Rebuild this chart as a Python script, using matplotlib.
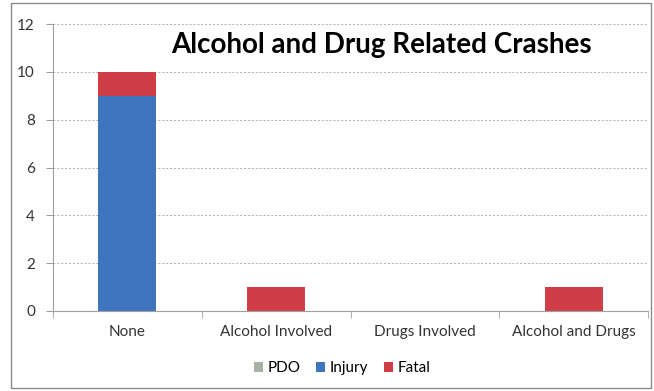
import matplotlib.pyplot as plt
import numpy as np
from matplotlib.patches import Rectangle

plt.rcParams['font.family'] = ['Lato', 'DejaVu Sans']

categories = ['None', 'Alcohol Involved', 'Drugs Involved', 'Alcohol and Drugs']
pdo = [0, 0, 0, 0]
injury = [9, 0, 0, 0]
fatal = [1, 1, 0, 1]

colors = {'PDO': '#A9B0A4', 'Injury': '#3F74BE', 'Fatal': '#CF3E47'}

fig = plt.figure(figsize=(6.54, 3.91), dpi=100)
fig.patches.append(Rectangle((11 / 654, 3 / 391), 640 / 654, 385 / 391, transform=fig.transFigure,
                             fill=False, edgecolor='#8C8C8C', linewidth=1))
ax = fig.add_axes([53 / 654, (391 - 311) / 391, (648 - 53) / 654, (311 - 24) / 391])

x = np.arange(len(categories))
w = 0.39
ax.bar(x, pdo, w, color=colors['PDO'], label='PDO')
ax.bar(x, injury, w, bottom=pdo, color=colors['Injury'], label='Injury')
ax.bar(x, fatal, w, bottom=np.array(pdo) + np.array(injury), color=colors['Fatal'], label='Fatal')

ax.set_xlim(-0.5, len(categories) - 0.5)
ax.set_ylim(0, 12)
ax.set_yticks(range(0, 13, 2))
ax.yaxis.grid(True, linestyle=(0, (2, 2)), color='#B0B0B0', linewidth=0.7)
ax.set_axisbelow(True)
for s in ['top', 'right']:
    ax.spines[s].set_visible(False)
ax.spines['left'].set_color('#A0A0A0')
ax.spines['bottom'].set_color('#A0A0A0')

ax.set_xticks(x)
ax.set_xticklabels(categories, fontsize=11, color='#333333')
ax.tick_params(axis='x', length=0, pad=10)
ax.set_xticks(np.arange(-0.5, len(categories), 1), minor=True)
ax.tick_params(axis='x', which='minor', length=5, color='#A0A0A0', direction='out')
ax.tick_params(axis='y', labelsize=11, labelcolor='#333333', length=5, color='#A0A0A0', pad=8)

fig.text(0.583, 0.885, 'Alcohol and Drug Related Crashes', ha='center', va='center',
         fontsize=20, fontweight='bold', color='black')

fig.legend(loc='center', bbox_to_anchor=(0.523, 0.058), ncol=3, frameon=False, fontsize=11,
           handlelength=0.6, handleheight=0.6, handletextpad=0.3, columnspacing=1.0)

plt.savefig('out.png', dpi=100)
